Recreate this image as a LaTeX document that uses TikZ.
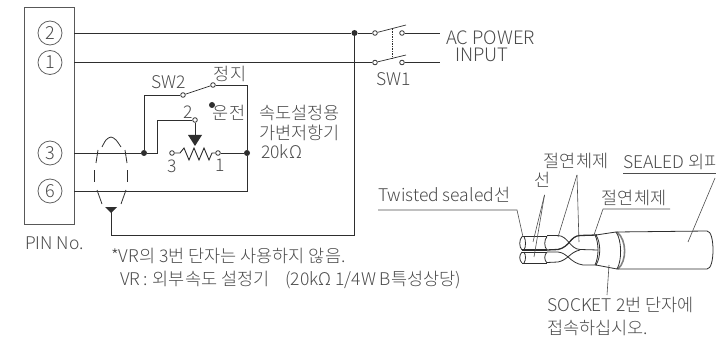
\documentclass[tikz,border=0pt]{standalone}
\usepackage{fontspec}
\setmainfont{Noto Sans CJK KR}[UprightFont=* Light]
\usetikzlibrary{calc}
\definecolor{ink}{HTML}{2E2E2E}
\definecolor{txt}{HTML}{4A4A4A}
\tikzset{
  wire/.style={draw=ink,line width=0.9pt},
  thin wire/.style={draw=ink,line width=0.7pt},
  contact/.style={circle,draw=ink,fill=white,line width=0.8pt,minimum size=4.6pt,inner sep=0pt},
  joint/.style={circle,fill=ink,minimum size=6pt,inner sep=0pt},
  pin/.style={circle,draw=ink!75,line width=0.8pt,minimum size=24pt,inner sep=0pt,text=txt,font=\fontsize{18}{18}\selectfont},
  lbl/.style={anchor=west,inner sep=0pt,text=txt,font=\fontsize{17.5}{19}\selectfont},
  lblc/.style={inner sep=0pt,text=txt,font=\fontsize{17.5}{19}\selectfont},
  leader/.style={draw=ink!85,line width=0.6pt},
  cable/.style={draw=ink,line width=0.8pt},
}
\begin{document}
\begin{tikzpicture}[x=1pt,y=-1pt]
\useasboundingbox (0,0) rectangle (716,337);
% terminal block
\node[draw=ink!80,line width=1pt,minimum width=50pt,minimum height=216pt,inner sep=0pt] (block) at (49,116) {};
\node[pin] (p2) at (50,33) {2};
\node[pin] (p1) at (50,62.5) {1};
\node[pin] (p3) at (50,153) {3};
\node[pin] (p6) at (50,191) {6};
\node[lbl] (pinno) at (25,243) {PIN No.};
% coordinates
\coordinate (b2) at (74,33);
\coordinate (b1) at (74,62.5);
\coordinate (b3) at (74,153);
\coordinate (b6) at (74,191);
\node[joint] (j0) at (354.5,33) {};
\node[contact] (s1a) at (375,33) {};
\node[contact] (s1b) at (402,33) {};
\node[contact] (s2a) at (375,62.5) {};
\node[contact] (s2b) at (402,62.5) {};
\coordinate (e1) at (440,33);
\coordinate (e2) at (440,62.5);
\coordinate (t1) at (406,25);
\coordinate (t2) at (406,55);
\draw[wire] (b2) -- (j0) -- (s1a);
\draw[wire] (b1) -- (s2a);
\draw[wire] (s1b) -- (e1);
\draw[wire] (s2b) -- (e2);
\draw[thin wire] (s1a) -- (t1);
\draw[thin wire] (s2a) -- (t2);
\draw[draw=ink,line width=0.8pt,dash pattern=on 1pt off 0.7pt] (392,29) -- (392,58);
\node[lblc] (sw1) at (394,79) {SW1};
\node[lbl,font=\fontsize{18.5}{19}\selectfont] (ac) at (446,38) {AC POWER};
\node[lbl,font=\fontsize{18.5}{19}\selectfont] (input) at (455,55) {INPUT};
% return line
\node[joint,minimum size=1pt] (j6) at (111,210) {};
\fill[ink] (105,207) -- (117,207) -- (111,213) -- cycle;
\draw[wire] (j0) -- (354.5,235) -- (111,235) -- (j6);
% SW2
\node[joint] (j3) at (144,153) {};
\node[joint] (j4) at (247,153) {};
\node[contact] (sw2a) at (183,95) {};
\node[contact] (sw2b) at (213,85) {};
\node[joint] (run) at (212,105) {};
\node[contact] (w) at (195,120) {};
\node[contact] (r3) at (172,153) {};
\node[contact] (r1) at (218,153) {};
\draw[wire] (b3) -- (j3) -- (157,153) -- (157,120) -- (w);
\draw[wire] (j3) -- (144,95) -- (sw2a);
\draw[thin wire] (sw2a) -- (sw2b);
\draw[wire] (sw2b) -- (247,85) -- (j4) -- (247,191) -- (b6);
\draw[wire] (r1) -- (j4);
\draw[wire] (w) -- (195,137);
\fill[ink] (188,135) -- (202,135) -- (195,146) -- cycle;
\draw[draw=ink,line width=0.9pt,line join=miter] (r3) -- (180,153) -- (184,148) -- (189,160) -- (194,148) -- (199,160) -- (204,148) -- (209,160) -- (212,153) -- (r1);
\node[lblc] (sw2) at (169,82) {SW2};
\node[lblc] (stop) at (230,74) {정지};
\node[lblc] (drive) at (229,113) {운전};
\node[lblc] (n2) at (188,112) {2};
\node[lblc] (n3) at (172,166) {3};
\node[lblc] (n1) at (220,165) {1};
\node[lbl] (vr1) at (259,113) {속도설정용};
\node[lbl] (vr2) at (259,133) {가변저항기};
\node[lbl] (vr3) at (261,152) {20kΩ};
% shield ellipse
\draw[draw=ink,line width=0.8pt] plot[smooth] coordinates {(102,147) (106,140) (111,137) (116,140) (121,147)};
\draw[draw=ink,line width=0.8pt] (98,150) -- (96,163);
\draw[draw=ink,line width=0.8pt] (125,150) -- (127,163);
\draw[draw=ink,line width=0.8pt] (94.5,170) -- (94.5,182);
\draw[draw=ink,line width=0.8pt] (127.5,170) -- (127.5,182);
\draw[draw=ink,line width=0.8pt] (97,190) -- (102,204);
\draw[draw=ink,line width=0.8pt] (126,190) -- (121,204);
% notes
\node[lbl] (n-a) at (111,256) {*VR의 3번 단자는 사용하지 않음.};
\node[lbl] (n-b) at (120,280) {VR\hspace{3pt}:\hspace{5pt}외부속도 설정기\hspace{16pt}(20kΩ 1/4W B특성상당)};
% cable
\draw[cable,fill=white] (616,232) -- (707,231) .. controls (711,231) and (713,240) .. (713,250) .. controls (713,260) and (711,269) .. (707,269) -- (617,269);
\draw[cable,fill=white] (616,232) -- (596,235) .. controls (601,243) and (601,257) .. (596,265) -- (617,269) .. controls (622,261) and (622,240) .. (616,232) -- cycle;
\draw[draw=ink,line width=1.6pt,draw opacity=.6] (617,232) .. controls (627,240) and (627,261) .. (618,269);
% twisted strands
\draw[cable] (547,235.5) -- (558,235.5) .. controls (568,236) and (570,249) .. (580,249.5) -- (598,250);
\draw[cable,line width=1.3pt] (547,250) -- (558,249.5) .. controls (570,247) and (570,236) .. (580,235.5) -- (597,235);
\draw[cable] (547,252) -- (558,252) .. controls (568,253) and (570,263) .. (583,265) -- (597,265);
\draw[cable] (547,262.5) -- (558,262) .. controls (568,260) and (570,252) .. (580,250);
% cut wires
\draw[cable] (522,236.5) -- (547,236.5);
\draw[cable,line width=1.2pt] (522,250) -- (547,250);
\draw[cable] (522,252) -- (547,252);
\draw[cable] (522,263) -- (547,263);
\draw[cable] (522,236.5) .. controls (519,240) and (519,247) .. (522,250);
\draw[cable] (522,252) .. controls (519,255) and (519,260) .. (522,263);
\draw[cable] (524,236.5) .. controls (526,240) and (526,247) .. (524,250);
\draw[cable] (524,252) .. controls (526,255) and (526,260) .. (524,263);
\draw[cable] (547,236.5) .. controls (544,240) and (544,247) .. (547,250);
\draw[cable] (547,252) .. controls (544,255) and (544,260) .. (547,263);
\draw[cable] (595,235) .. controls (599,243) and (599,257) .. (595,265);
% cable labels
\node[lbl] (twist) at (378,195) {Twisted sealed선};
\coordinate (tw1) at (378,210);
\coordinate (tw2) at (517,210);
\coordinate (tw3) at (523,237);
\draw[leader] (tw1) -- (tw2) -- (tw3);
\node[lblc] (wire) at (543,180) {선};
\coordinate (wl) at (544.5,195);
\coordinate (wa) at (533,242);
\coordinate (wb) at (534,257);
\draw[leader] (wl) -- (wa);
\draw[leader] (wl) -- (wb);
\node[lblc] (ins1) at (576,161) {절연체제};
\coordinate (il) at (577,175);
\coordinate (ia) at (558,237);
\coordinate (ib) at (579,242);
\draw[leader] (il) -- (ia);
\draw[leader] (il) -- (ib);
\node[lblc] (ins2) at (634,198) {절연체제};
\coordinate (i2a) at (670,209);
\coordinate (i2b) at (603,209);
\coordinate (i2c) at (594,235);
\draw[leader] (i2a) -- (i2b) -- (i2c);
\node[lbl] (sealed) at (623,162) {SEALED 외피};
\coordinate (s1) at (623,173);
\coordinate (s2) at (716,173);
\coordinate (s3) at (715,178);
\coordinate (s4) at (688,242);
\draw[leader] (s1) -- (s2);
\draw[leader] (s3) -- (s4);
\coordinate (so1) at (609,265);
\coordinate (so2) at (607,295);
\draw[leader] (so1) -- (so2);
\node[lbl] (sock1) at (547,305) {SOCKET 2번 단자에};
\node[lbl] (sock2) at (547,328) {접속하십시오.};
\end{tikzpicture}
\end{document}
